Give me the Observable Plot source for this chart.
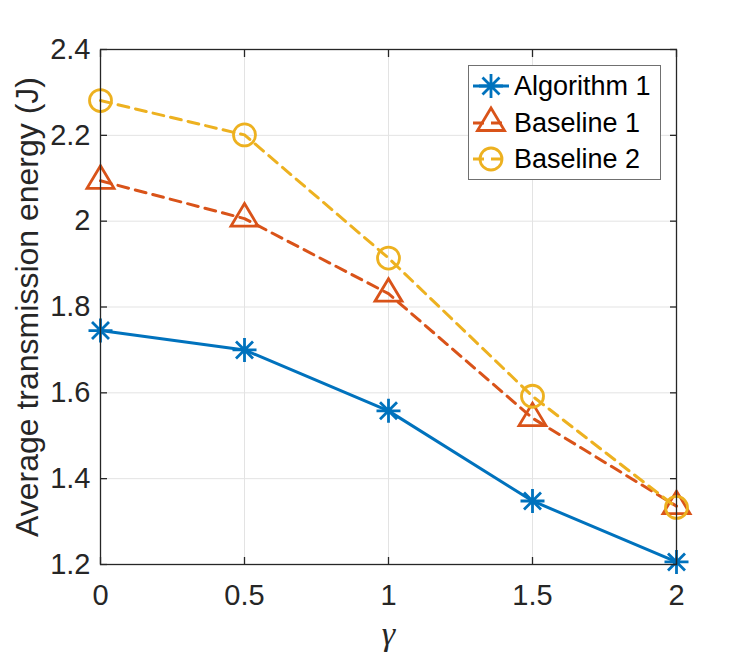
<!DOCTYPE html>
<html><head><meta charset="utf-8">
<script src="https://cdn.jsdelivr.net/npm/d3@7"></script>
<script src="https://cdn.jsdelivr.net/npm/@observablehq/plot@0.6"></script>
<style>
html,body{margin:0;padding:0;background:#fff;}
#wrap{position:relative;width:747px;height:658px;}
#legend{position:absolute;left:468px;top:65px;}
</style></head><body><div id="wrap"></div>
<script>
// ---- data ----
const gamma = [0, 0.5, 1, 1.5, 2];
const algorithm1 = [1.745, 1.700, 1.558, 1.348, 1.206];
const baseline1 = [2.094, 2.006, 1.831, 1.541, 1.336];
const baseline2 = [2.281, 2.201, 1.914, 1.592, 1.333];
const seriesNames = ["Algorithm 1", "Baseline 1", "Baseline 2"];
const seriesColors = ["#0072BD", "#D95319", "#EDB120"];
const xTicks = [0, 0.5, 1, 1.5, 2];
const yTicks = [1.2, 1.4, 1.6, 1.8, 2.0, 2.2, 2.4];
const xLabel = "γ";
const yLabel = "Average transmission energy (J)";

// ---- marker shapes (MATLAB-like) ----
const symAsterisk = {draw(ctx) {
  const a = 12, d = 8.5;
  ctx.moveTo(-a, 0); ctx.lineTo(a, 0);
  ctx.moveTo(0, -a); ctx.lineTo(0, a);
  ctx.moveTo(-d, -d); ctx.lineTo(d, d);
  ctx.moveTo(-d, d); ctx.lineTo(d, -d);
}};
const symTriangle = {draw(ctx) {
  ctx.moveTo(0, -15); ctx.lineTo(13.5, 7.5); ctx.lineTo(-13.5, 7.5); ctx.closePath();
}};
const symCircle = {draw(ctx) {
  ctx.moveTo(11, 0); ctx.arc(0, 0, 11, 0, 2 * Math.PI);
}};
const seriesSymbols = [symAsterisk, symTriangle, symCircle];
const seriesDash = [null, "11,7", "11,7"];
const seriesValues = [algorithm1, baseline1, baseline2];

const rows = seriesNames.map((name, s) => gamma.map((g, i) => ({gamma: g, value: seriesValues[s][i], series: name})));

const axisColor = "#262626";
const fmt = d => String(+(+d).toFixed(1));

const seriesMarks = rows.flatMap((data, s) => [
  Plot.line(data, {x: "gamma", y: "value", stroke: seriesColors[s], strokeWidth: 3,
    strokeDasharray: seriesDash[s], strokeLinejoin: "round"}),
  Plot.dot(data, {x: "gamma", y: "value", symbol: seriesSymbols[s], r: 5, fill: "none",
    stroke: seriesColors[s], strokeWidth: 2.8})
]);

const chart = Plot.plot({
  width: 747, height: 658,
  marginLeft: 100, marginRight: 71, marginTop: 49, marginBottom: 94,
  style: {fontFamily: "'Liberation Sans', Arial, Helvetica, sans-serif", background: "white", color: axisColor},
  x: {domain: [0, 2], axis: null},
  y: {domain: [1.2, 2.4], axis: null},
  marks: [
    Plot.gridX(xTicks, {stroke: "#e3e3e3", strokeOpacity: 1, strokeWidth: 1}),
    Plot.gridY(yTicks, {stroke: "#e3e3e3", strokeOpacity: 1, strokeWidth: 1}),
    ...seriesMarks,
    Plot.frame({stroke: axisColor, strokeWidth: 1.3}),
    // inward ticks on all four sides
    Plot.axisX(xTicks, {anchor: "bottom", tickSize: 7, insetBottom: 7, fill: "none", label: null, stroke: axisColor, strokeWidth: 1.3}),
    Plot.axisX(xTicks, {anchor: "top", tickSize: 7, insetTop: 7, fill: "none", label: null, stroke: axisColor, strokeWidth: 1.3}),
    Plot.axisY(yTicks, {anchor: "left", tickSize: 7, insetLeft: 7, fill: "none", label: null, stroke: axisColor, strokeWidth: 1.3}),
    Plot.axisY(yTicks, {anchor: "right", tickSize: 7, insetRight: 7, fill: "none", label: null, stroke: axisColor, strokeWidth: 1.3}),
    // tick labels
    Plot.axisX(xTicks, {anchor: "bottom", tickSize: 0, tickPadding: 20, fontSize: 29, label: null, tickFormat: fmt, fill: axisColor}),
    Plot.axisY(yTicks, {anchor: "left", tickSize: 0, tickPadding: 10, fontSize: 29, label: null, tickFormat: fmt, fill: axisColor}),
    // axis titles
    Plot.text([yLabel], {frameAnchor: "left", textAnchor: "middle", lineAnchor: "middle", rotate: -90, dx: -73, fontSize: 32, fill: axisColor}),
    Plot.text([xLabel], {frameAnchor: "bottom", textAnchor: "middle", lineAnchor: "middle", dy: 70, fontSize: 34, fontStyle: "italic",
      fontFamily: "'Liberation Serif', 'DejaVu Serif', serif", fill: axisColor})
  ]
});

const wrap = document.getElementById("wrap");
wrap.appendChild(chart);

// ---- legend overlay ----
const lw = 192, lh = 114;
const leg = d3.create("svg").attr("id", "legend").attr("width", lw + 1).attr("height", lh + 1);
leg.append("rect").attr("x", 0.5).attr("y", 0.5).attr("width", lw).attr("height", lh)
  .attr("fill", "white").attr("stroke", "#707070").attr("stroke-width", 1);
const rowY = [21, 58, 94];
seriesNames.forEach((name, s) => {
  const g = leg.append("g").attr("transform", `translate(0,${rowY[s]})`);
  g.append("line").attr("x1", 5).attr("x2", 41).attr("y1", 0).attr("y2", 0)
    .attr("stroke", seriesColors[s]).attr("stroke-width", 3)
    .attr("stroke-dasharray", seriesDash[s]);
  g.append("path").attr("transform", "translate(23,0)")
    .attr("d", d3.symbol(seriesSymbols[s], 80)())
    .attr("fill", "white").attr("fill-opacity", 0).attr("stroke", seriesColors[s]).attr("stroke-width", 2.8);
  g.append("text").attr("x", 46).attr("y", 0).attr("dy", "0.35em")
    .attr("font-family", "'Liberation Sans', Arial, Helvetica, sans-serif")
    .attr("font-size", 27).attr("fill", "#000").text(name);
});
wrap.appendChild(leg.node());
</script>
</body></html>
